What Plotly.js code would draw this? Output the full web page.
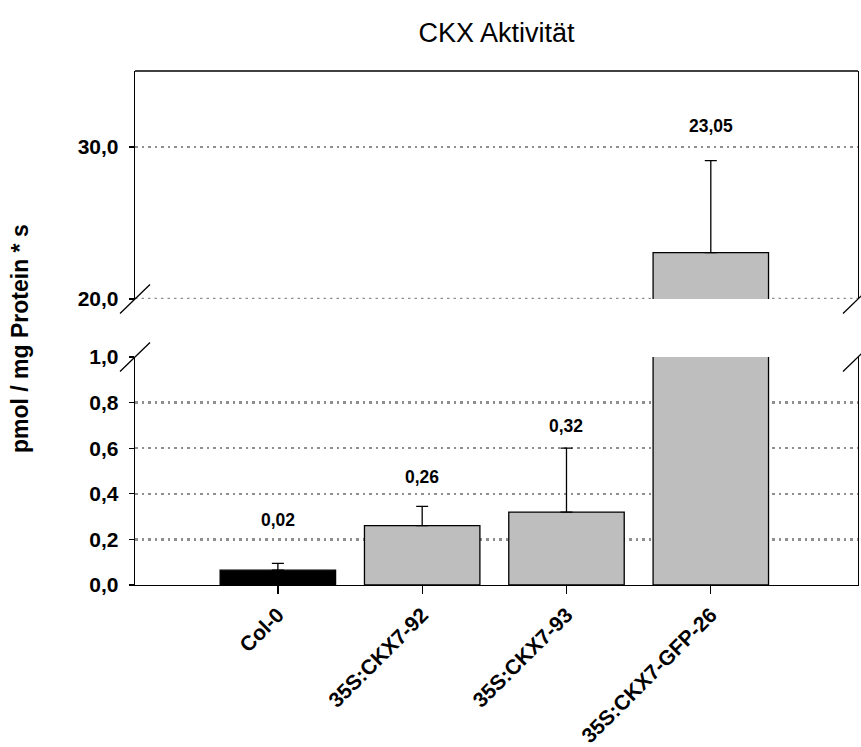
<!DOCTYPE html>
<html>
<head>
<meta charset="utf-8">
<script src="https://cdn.plot.ly/plotly-3.0.1.min.js"></script>
<style>
  html, body { margin: 0; padding: 0; background: #ffffff; }
  #chart { width: 861px; height: 747px; }
</style>
</head>
<body>
<div id="chart"></div>
<script>
// ---- data ----
const categories = ['Col-0', '35S:CKX7-92', '35S:CKX7-93', '35S:CKX7-GFP-26'];
const activity = [0.065, 0.26, 0.32, 23.05];
const errorUp = [0.03, 0.085, 0.28, 6.05];
const valueLabels = ['0,02', '0,26', '0,32', '23,05'];
const lowerTickVals = [0, 0.2, 0.4, 0.6, 0.8, 1.0];
const lowerTickText = ['0,0', '0,2', '0,4', '0,6', '0,8', '1,0'];
const upperTickVals = [20, 30];
const upperTickText = ['20,0', '30,0'];

// ---- styles ----
const FONT = 'Liberation Sans, Arial, sans-serif';
const barColors = ['#000000', '#bebebe', '#bebebe', '#bebebe'];
const labelShift = [43, 29, 22, 35];
const GRIDCOLOR = '#8f8f8f';
const GRIDDASH = '2.5px,4px';

const errY = {
  type: 'data', symmetric: false, array: errorUp,
  arrayminus: errorUp.map(() => 0),
  color: '#000000', thickness: 1.3, width: 6
};
const barBase = {
  type: 'bar', x: categories, y: activity, width: 0.8,
  marker: { color: barColors, line: { color: '#000000', width: 1.3 } },
  error_y: errY, hoverinfo: 'skip', showlegend: false
};
const traces = [
  Object.assign({}, barBase, { xaxis: 'x', yaxis: 'y' }),
  Object.assign({}, barBase, { xaxis: 'x', yaxis: 'y2' })
];

const lowerLimit = lowerTickVals[lowerTickVals.length - 1];
const annotations = categories.map((c, i) => {
  const top = activity[i] + errorUp[i];
  const upper = top > lowerLimit;
  return {
    x: c, y: top, xref: 'x', yref: upper ? 'y2' : 'y',
    text: '<b>' + valueLabels[i] + '</b>', showarrow: false,
    yanchor: 'middle', yshift: labelShift[i],
    font: { family: FONT, size: 17.5, color: '#000000' }
  };
});
annotations.push({
  xref: 'paper', yref: 'paper', x: -0.158, y: 0.48,
  text: '<b>pmol / mg Protein * s</b>', textangle: -90, showarrow: false,
  xanchor: 'center', yanchor: 'middle',
  font: { family: FONT, size: 23, color: '#000000' }
});

function slash(yref) {
  return [0, 1].map(xp => ({
    type: 'line', xref: 'paper', yref: yref,
    xsizemode: 'pixel', xanchor: xp, x0: -15, x1: 15,
    ysizemode: 'pixel', yanchor: yref === 'y2 domain' ? 0 : 1, y0: -14.5, y1: 14.5,
    line: { color: '#000000', width: 1.3 }
  }));
}
const shapes = [
  // upper panel top border
  { type: 'line', xref: 'paper', yref: 'y2 domain', x0: 0, x1: 1, y0: 1, y1: 1,
    line: { color: '#000000', width: 1.3 } },
  // grid line at the lowest tick of the upper panel (Plotly hides it at the domain edge)
  { type: 'line', xref: 'paper', yref: 'y2', x0: 0, x1: 1,
    y0: upperTickVals[0], y1: upperTickVals[0], layer: 'below',
    line: { color: GRIDCOLOR, width: 2.5, dash: GRIDDASH } }
].concat(slash('y2 domain'), slash('y domain'));

const gridStyle = { showgrid: true, gridcolor: GRIDCOLOR, gridwidth: 2.5, griddash: GRIDDASH };
const yTickFont = { family: FONT, size: 21, color: '#000000' };

const layout = {
  width: 861, height: 747,
  margin: { l: 135, r: 3, t: 71, b: 162 },
  paper_bgcolor: '#ffffff', plot_bgcolor: '#ffffff',
  font: { family: FONT, color: '#000000' },
  title: {
    text: 'CKX Aktivität', x: 0.5, xref: 'paper', xanchor: 'center',
    y: 1 - 33 / 747, yref: 'container', yanchor: 'middle',
    font: { family: FONT, size: 27, color: '#000000' }
  },
  bargap: 0.2,
  xaxis: {
    type: 'category', range: [-0.99, 4.02], anchor: 'y',
    tickvals: categories,
    ticktext: categories.map(c => '<b>' + c + '</b>'),
    tickangle: -45, ticks: 'outside', ticklen: 8, tickwidth: 1.3, tickcolor: '#000000',
    showline: true, linecolor: '#000000', linewidth: 1.3, mirror: false,
    showgrid: false, zeroline: false,
    tickfont: { family: FONT, size: 21, color: '#000000' }
  },
  yaxis: Object.assign({
    domain: [0, 228 / 514], range: [0, lowerLimit], anchor: 'x',
    tickvals: lowerTickVals, ticktext: lowerTickText.map(t => '<b>' + t + '</b>'),
    ticks: 'outside', ticklen: 5, tickwidth: 1.3, tickcolor: '#000000', ticklabelstandoff: 6,
    showline: true, linecolor: '#000000', linewidth: 1.3, mirror: true,
    zeroline: false, tickfont: yTickFont
  }, gridStyle),
  yaxis2: Object.assign({
    domain: [286 / 514, 1], range: [20, 35], anchor: 'x',
    tickvals: upperTickVals, ticktext: upperTickText.map(t => '<b>' + t + '</b>'),
    ticks: 'outside', ticklen: 5, tickwidth: 1.3, tickcolor: '#000000', ticklabelstandoff: 6,
    showline: true, linecolor: '#000000', linewidth: 1.3, mirror: true,
    zeroline: false, tickfont: yTickFont
  }, gridStyle),
  annotations: annotations,
  shapes: shapes
};

Plotly.newPlot('chart', traces, layout, { displayModeBar: false, staticPlot: true });
</script>
</body>
</html>
